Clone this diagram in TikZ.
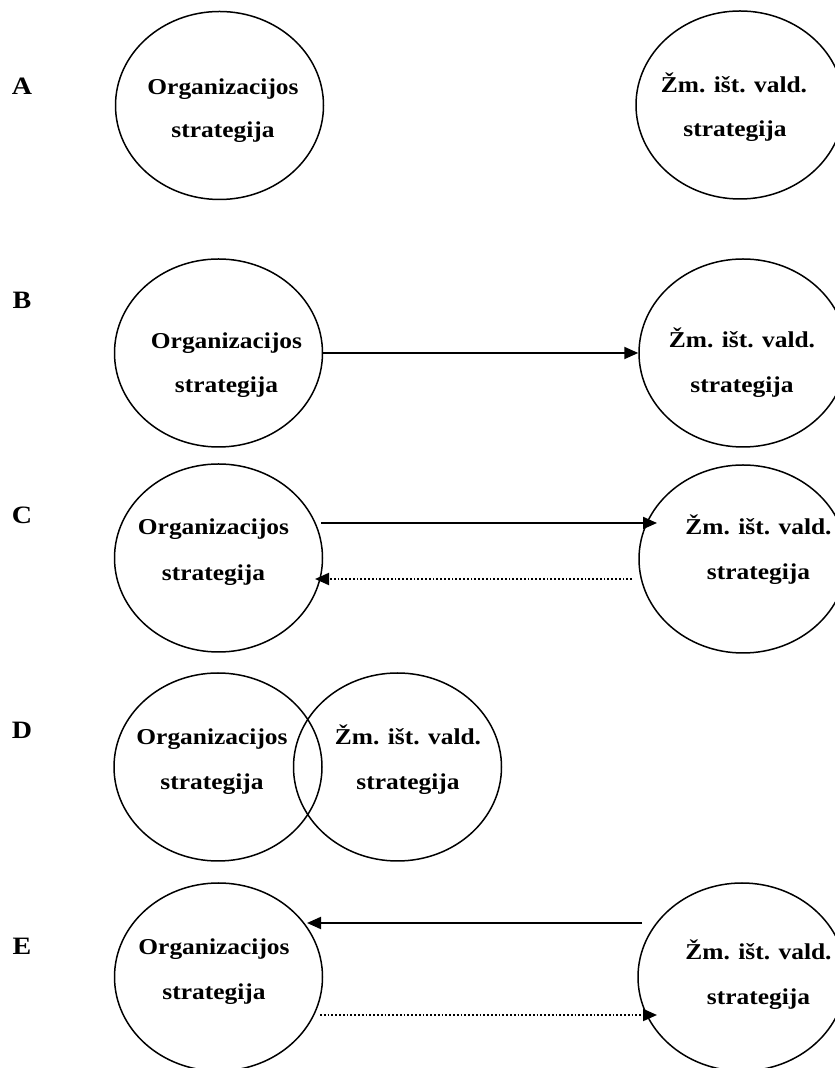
\documentclass[tikz,border=0pt]{standalone}
\usepackage{fontspec}
\setmainfont[FakeStretch=1.12]{Liberation Serif}
\usetikzlibrary{arrows.meta,shapes.geometric}

\tikzset{
  strat/.style={draw, ellipse, line width=1.5pt, inner sep=0pt,
                minimum width=208pt, minimum height=188pt},
  txt/.style={anchor=base, inner sep=0pt,
              font=\fontsize{22.7}{27}\selectfont\bfseries},
  tag/.style={anchor=base, inner sep=0pt,
              font=\fontsize{25}{29}\selectfont\bfseries},
  link/.style={line width=2pt, -{Triangle[length=14pt,width=12pt]}},
  dotlink/.style={line width=2pt, dash pattern=on 1.8pt off 2pt,
                  -{Triangle[length=14pt,width=12pt]}}
}

\begin{document}
\begin{tikzpicture}[x=1pt,y=1pt]
\useasboundingbox (0,0) rectangle (835,1068);

% ---- A: separate strategies ----
\node[tag] (labA) at (22,973) {A};
\node[strat] (orgA) at (219.5,962.5) {};
\node[strat] (zmA)  at (740,963) {};
\node[txt] (orgA1) at (223,973) {Organizacijos};
\node[txt] (orgA2) at (223,930) {strategija};
\node[txt] (zmA1)  at (734,975) {Žm. išt. vald.};
\node[txt] (zmA2)  at (735,931) {strategija};

% ---- B: one-way link ----
\node[tag] (labB) at (22,759) {B};
\node[strat] (orgB) at (218.5,715) {};
\node[strat] (zmB)  at (743,715) {};
\node[txt] (orgB1) at (226.5,719) {Organizacijos};
\node[txt] (orgB2) at (226.5,675) {strategija};
\node[txt] (zmB1)  at (742,720) {Žm. išt. vald.};
\node[txt] (zmB2)  at (742,675) {strategija};
\draw[link] (orgB.east) -- (zmB.west);

% ---- C: link with feedback ----
\node[tag] (labC) at (22,544) {C};
\node[strat] (orgC) at (218.5,510) {};
\node[strat] (zmC)  at (743,509) {};
\node[txt] (orgC1) at (213.5,533) {Organizacijos};
\node[txt] (orgC2) at (213.5,487) {strategija};
\node[txt] (zmC1)  at (758.5,533) {Žm. išt. vald.};
\node[txt] (zmC2)  at (758.5,488) {strategija};
\draw[link] ([shift={(102.5,35)}]orgC.center) -- ([shift={(-86,36)}]zmC.center);
\draw[dotlink] ([shift={(-111,-20)}]zmC.center) -- ([shift={(96.5,-21)}]orgC.center);

% ---- D: overlapping strategies ----
\node[tag] (labD) at (22,329) {D};
\node[strat] (orgD) at (218,301) {};
\node[strat] (zmD)  at (397.5,301) {};
\node[txt] (orgD1) at (212,323) {Organizacijos};
\node[txt] (orgD2) at (212,278) {strategija};
\node[txt] (zmD1)  at (408,323) {Žm. išt. vald.};
\node[txt] (zmD2)  at (408,278) {strategija};

% ---- E: reverse link with feedback ----
\node[tag] (labE) at (22,113) {E};
\node[strat] (orgE) at (218.5,91) {};
\node[strat] (zmE)  at (742,91) {};
\node[txt] (orgE1) at (214,113) {Organizacijos};
\node[txt] (orgE2) at (214,68) {strategija};
\node[txt] (zmE1)  at (758.5,108) {Žm. išt. vald.};
\node[txt] (zmE2)  at (758.5,63) {strategija};
\draw[link] ([shift={(-100,54)}]zmE.center) -- ([shift={(88.5,54)}]orgE.center);
\draw[dotlink] ([shift={(101.5,-38)}]orgE.center) -- ([shift={(-85,-38)}]zmE.center);
\end{tikzpicture}
\end{document}
